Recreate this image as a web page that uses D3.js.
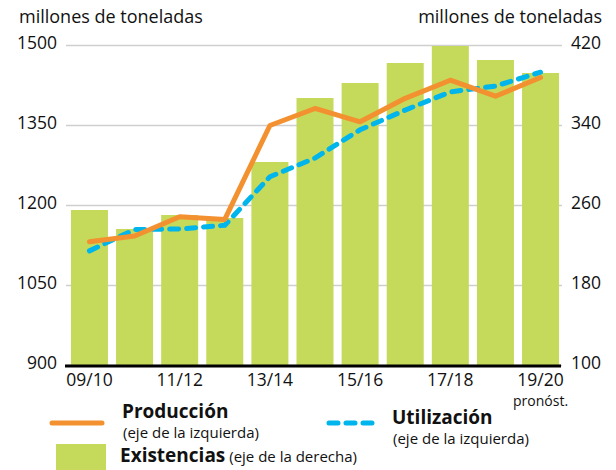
<!DOCTYPE html>
<html>
<head>
<meta charset="utf-8">
<script src="https://cdn.jsdelivr.net/npm/d3@7"></script>
<style>
  body { margin: 0; background: #fff; }
  svg { font-family: "Open Sans", sans-serif; }
  .grid line { stroke: #cfcfcf; stroke-width: 1.5; }
  .grid path { display: none; }
  .axis path { display: none; }
  .axis text { font-family: "Open Sans", sans-serif; font-size: 17.5px; fill: #111; }
</style>
</head>
<body>
<svg width="616" height="470"></svg>
<script>
var seasons = ["09/10", "10/11", "11/12", "12/13", "13/14", "14/15", "15/16", "16/17", "17/18", "18/19", "19/20"];
var tickSeasons = ["09/10", "11/12", "13/14", "15/16", "17/18", "19/20"];
var leftTicks = [900, 1050, 1200, 1350, 1500];
var rightTicks = [100, 180, 260, 340, 420];

// left axis (millones de toneladas)
var produccion = [1131, 1142, 1178, 1173, 1349, 1381, 1356, 1400, 1434, 1404, 1439];
var utilizacion = [1114, 1154, 1155, 1162, 1253, 1288, 1341, 1378, 1412, 1423, 1449];
// right axis
var existencias = [255, 236, 250, 247, 303, 367, 382, 402, 419, 405, 392];

var svg = d3.select("svg"),
    plotLeft = 66, plotRight = 562, plotTop = 45, plotBottom = 365;

var x = d3.scaleBand().domain(seasons).range([plotLeft, 564]).paddingInner(0.18).paddingOuter(0.11),
    yL = d3.scaleLinear().domain([900, 1500]).range([plotBottom, plotTop]),
    yR = d3.scaleLinear().domain([100, 420]).range([plotBottom, plotTop]);

// gridlines
svg.append("g")
    .attr("class", "grid")
    .attr("transform", "translate(" + plotLeft + ",0)")
    .call(d3.axisLeft(yL).tickValues(leftTicks).tickSize(-(plotRight - plotLeft)).tickFormat(""));

// bars
svg.selectAll(".bar")
    .data(existencias)
  .enter().append("rect")
    .attr("class", "bar")
    .attr("x", function(d, i) { return x(seasons[i]); })
    .attr("width", x.bandwidth())
    .attr("y", function(d) { return yR(d); })
    .attr("height", function(d) { return plotBottom - yR(d); })
    .attr("fill", "#c5d95a");

// baseline
svg.append("line")
    .attr("x1", plotLeft - 1).attr("x2", plotRight - 1)
    .attr("y1", plotBottom + 1).attr("y2", plotBottom + 1)
    .attr("stroke", "#000").attr("stroke-width", 3);

var line = d3.line()
    .x(function(d, i) { return x(seasons[i]) + x.bandwidth() / 2; })
    .y(function(d) { return yL(d); });

svg.append("path")
    .datum(utilizacion)
    .attr("d", line)
    .attr("fill", "none")
    .attr("stroke", "#00b5ec")
    .attr("stroke-width", 5)
    .attr("stroke-linecap", "round")
    .attr("stroke-dasharray", "9,8");

svg.append("path")
    .datum(produccion)
    .attr("d", line)
    .attr("fill", "none")
    .attr("stroke", "#f39130")
    .attr("stroke-width", 5)
    .attr("stroke-linecap", "round")
    .attr("stroke-linejoin", "round");

// axes
svg.append("g")
    .attr("class", "axis")
    .attr("transform", "translate(" + plotLeft + ",-2)")
    .call(d3.axisLeft(yL).tickValues(leftTicks).tickSize(0).tickPadding(9).tickFormat(d3.format("d")));

svg.append("g")
    .attr("class", "axis")
    .attr("transform", "translate(" + plotRight + ",-2)")
    .call(d3.axisRight(yR).tickValues(rightTicks).tickSize(0).tickPadding(9).tickFormat(d3.format("d")));

svg.append("g")
    .attr("class", "axis")
    .attr("transform", "translate(0," + plotBottom + ")")
    .call(d3.axisBottom(x).tickValues(tickSeasons).tickSize(0).tickPadding(9));

svg.append("text")
    .attr("x", x("19/20") + x.bandwidth() / 2)
    .attr("y", 406)
    .attr("text-anchor", "middle")
    .attr("font-size", "14px")
    .attr("fill", "#111")
    .text("pronóst.");

// unit labels
svg.append("text").attr("x", 19).attr("y", 23)
    .attr("font-size", "18px").attr("fill", "#111")
    .text("millones de toneladas");
svg.append("text").attr("x", 602).attr("y", 23)
    .attr("text-anchor", "end")
    .attr("font-size", "18px").attr("fill", "#111")
    .text("millones de toneladas");

// legend
svg.append("line")
    .attr("x1", 52).attr("x2", 102).attr("y1", 423).attr("y2", 423)
    .attr("stroke", "#f39130").attr("stroke-width", 5).attr("stroke-linecap", "round");
svg.append("text").attr("x", 122).attr("y", 418)
    .attr("font-size", "19px").attr("font-weight", "bold").attr("fill", "#111")
    .text("Producción");
svg.append("text").attr("x", 123).attr("y", 438)
    .attr("font-size", "15px").attr("fill", "#111")
    .text("(eje de la izquierda)");

svg.append("line")
    .attr("x1", 329).attr("x2", 378).attr("y1", 423).attr("y2", 423)
    .attr("stroke", "#00b5ec").attr("stroke-width", 5).attr("stroke-linecap", "round")
    .attr("stroke-dasharray", "9,8");
svg.append("text").attr("x", 392).attr("y", 424)
    .attr("font-size", "19px").attr("font-weight", "bold").attr("fill", "#111")
    .text("Utilización");
svg.append("text").attr("x", 393).attr("y", 444)
    .attr("font-size", "15px").attr("fill", "#111")
    .text("(eje de la izquierda)");

svg.append("rect")
    .attr("x", 56).attr("y", 444).attr("width", 50).attr("height", 26)
    .attr("fill", "#c5d95a");
var ex = svg.append("text").attr("x", 120).attr("y", 462).attr("fill", "#111");
ex.append("tspan").attr("font-size", "19px").attr("font-weight", "bold").text("Existencias");
ex.append("tspan").attr("font-size", "15px").text(" (eje de la derecha)");
</script>
</body>
</html>
